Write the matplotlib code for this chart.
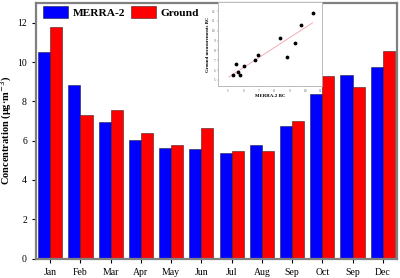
import numpy as np
import matplotlib
matplotlib.use('Agg')
import matplotlib.pyplot as plt

plt.rcParams['font.family'] = ['Liberation Serif', 'DejaVu Serif']

# monthly BC concentrations
months = ['Jan', 'Feb', 'Mar', 'Apr', 'May', 'Jun', 'Jul', 'Aug', 'Sep', 'Oct', 'Sep', 'Dec']
merra = [10.5, 8.84, 6.93, 6.05, 5.64, 5.56, 5.37, 5.8, 6.74, 8.35, 9.35, 9.74]
ground = [11.8, 7.32, 7.54, 6.4, 5.78, 6.62, 5.46, 5.49, 6.98, 9.31, 8.72, 10.57]

fig = plt.figure(figsize=(4, 2.78), dpi=100)
ax = fig.add_axes([0.09, 0.07, 0.9025, 0.919])

x = np.arange(len(months))
w = 0.4
ax.bar(x - w / 2, merra, w, color='#0000ff', edgecolor='#202040', linewidth=0.4, label='MERRA-2')
ax.bar(x + w / 2, ground, w, color='#ff0000', edgecolor='#402020', linewidth=0.4, label='Ground')

ax.set_xlim(-0.47, 11.47)
ax.set_ylim(0, 13)
ax.set_xticks(x)
ax.set_xticklabels(months, fontsize=7)
ax.set_yticks([0, 2, 4, 6, 8, 10, 12])
ax.tick_params(axis='y', labelsize=7, direction='out', length=3, width=0.8)
ax.tick_params(axis='x', direction='out', length=3, width=0.8)
ax.set_ylabel('Concentration (μg·m$^{-3}$)', fontsize=7.5, fontweight='bold', labelpad=2)
for s in ax.spines.values():
    s.set_color('#808080')
    s.set_linewidth(1.6)

leg = ax.legend(loc='upper left', ncol=2, frameon=False, prop={'weight': 'bold', 'size': 8.2},
                handlelength=2.2, handleheight=1.25, columnspacing=0.5, handletextpad=0.4,
                bbox_to_anchor=(0.0, 1.015), borderaxespad=0.2)

# inset scatter: ground vs MERRA-2
ins = fig.add_axes([0.545, 0.69, 0.26, 0.302])
ins.scatter(merra, ground, s=3, color='black', zorder=3)
k, b = np.polyfit(merra, ground, 1)
xs = np.array([min(merra) - 0.3, max(merra)])
ins.plot(xs, k * xs + b, color='#f2a0a8', linewidth=0.6)
ins.set_xlim(4.37, 11.1)
ins.set_ylim(4.36, 12.9)
ins.set_xticks([5, 6, 7, 8, 9, 10, 11])
ins.set_yticks([5, 6, 7, 8, 9, 10, 11, 12])
ins.tick_params(labelsize=2.5, length=1, width=0.3, pad=1, colors='#606060')
ins.set_xlabel('MERRA-2 BC', fontsize=3.5, fontweight='bold', labelpad=1)
ins.set_ylabel('Ground measurements BC', fontsize=3.5, fontweight='bold', labelpad=1)
for s in ins.spines.values():
    s.set_color('#b0b0b0')
    s.set_linewidth(0.6)

fig.savefig('out.png', dpi=100)
